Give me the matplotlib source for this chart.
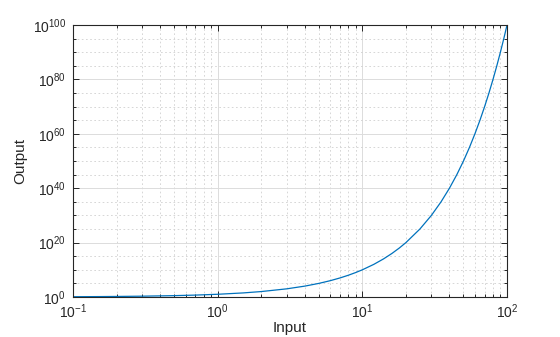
import numpy as np
import matplotlib.pyplot as plt
from matplotlib.ticker import FixedLocator, NullFormatter

plt.rcParams['font.family'] = ['Liberation Sans', 'DejaVu Sans']

# points (input, output)
inputs = [0.1, 0.15, 0.2, 0.3, 0.5, 0.7, 1, 1.5, 2, 3, 4, 5, 6, 7, 8, 9, 10,
          12, 14, 16, 18, 20, 25, 30, 35, 40, 45, 50, 55, 60, 65, 70, 75,
          80, 85, 90, 95, 100]
outputs = [1.26, 1.41, 1.58, 2.0, 3.16, 5.01, 1e1, 3.16e1, 1e2, 1e3, 1e4, 1e5,
           1e6, 1e7, 1e8, 1e9, 1e10, 1e12, 1e14, 1e16, 1e18, 1e20, 1e25, 1e30,
           1e35, 1e40, 1e45, 1e50, 1e55, 1e60, 1e65, 1e70, 1e75, 1e80, 1e85,
           1e90, 1e95, 1e100]
ytick_vals = [1e0, 1e20, 1e40, 1e60, 1e80, 1e100]
yminor_vals = [10.0 ** k for k in range(0, 101, 5) if k % 20 != 0]

fig = plt.figure(figsize=(5.6, 3.37), dpi=100)
ax = fig.add_axes([0.1304, 0.1187, 0.775, 0.8071])

ax.plot(inputs, outputs, color='#0072BD', lw=0.9)
ax.set_xscale('log')
ax.set_yscale('log')
ax.set_xlim(0.1, 100)
ax.set_ylim(1, 1e100)

ax.yaxis.set_major_locator(FixedLocator(ytick_vals))
ax.yaxis.set_minor_locator(FixedLocator(yminor_vals))
ax.yaxis.set_minor_formatter(NullFormatter())

ax.grid(True, which='major', color='#dcdcdc', lw=0.7, ls='-')
ax.grid(True, which='minor', color='#d0d0d0', lw=0.6, ls=(0, (2, 3)))
ax.set_axisbelow(True)

ax.tick_params(which='both', direction='in', top=True, right=True,
               labelsize=10, colors='#262626', width=0.7)
ax.tick_params(which='major', length=4)
ax.tick_params(which='minor', length=2.5)
ax.tick_params(axis='x', which='major', pad=4)
ax.tick_params(axis='y', which='major', pad=5)
for s in ax.spines.values():
    s.set_color('#262626')
    s.set_linewidth(0.8)

ax.set_xlabel('Input', fontsize=11, color='#262626', labelpad=0)
ax.set_ylabel('Output', fontsize=11, color='#262626', labelpad=4)

fig.savefig('out.png', dpi=100)
